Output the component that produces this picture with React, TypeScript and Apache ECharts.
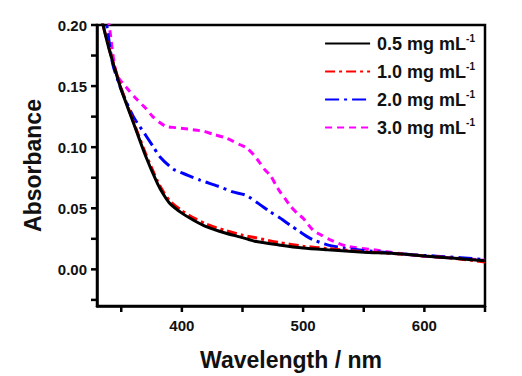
import React, { useEffect, useRef } from "react";
import * as echarts from "echarts";

const names = ["0.5 mg mL", "1.0 mg mL", "2.0 mg mL", "3.0 mg mL"];
const colors = ["#000000", "#ff0000", "#0000ff", "#ff00ff"];

const s05: [number, number][] = [
  [332, 0.215], [335, 0.2], [340, 0.18], [345, 0.163], [350, 0.147], [360, 0.12], [370, 0.093],
  [380, 0.07], [385, 0.061], [390, 0.054], [400, 0.046], [410, 0.04], [420, 0.035], [435, 0.03],
  [450, 0.026], [460, 0.023], [480, 0.02], [500, 0.0175], [520, 0.016], [550, 0.014],
  [575, 0.013], [600, 0.011], [625, 0.009], [650, 0.007],
];
const s10: [number, number][] = [
  [332, 0.215], [335, 0.2], [340, 0.181], [345, 0.164], [350, 0.148], [360, 0.121], [370, 0.095],
  [380, 0.072], [385, 0.063], [390, 0.056], [400, 0.048], [410, 0.042], [420, 0.037], [435, 0.032],
  [450, 0.028], [460, 0.026], [480, 0.022], [500, 0.019], [520, 0.017], [550, 0.0145],
  [575, 0.013], [600, 0.011], [625, 0.009], [650, 0.006],
];
const s20: [number, number][] = [
  [335, 0.215], [338, 0.2], [343, 0.168], [350, 0.147], [360, 0.125], [370, 0.11], [376, 0.101],
  [382, 0.092], [393, 0.082], [405, 0.077], [415, 0.073], [430, 0.068], [442, 0.0634],
  [453, 0.0606], [463, 0.054], [473, 0.047], [481, 0.042], [489, 0.0364], [497, 0.031],
  [503, 0.027], [508, 0.0243], [520, 0.02], [533, 0.0175], [550, 0.0155], [571, 0.0135],
  [590, 0.012], [610, 0.0108], [630, 0.0095], [650, 0.008],
];
const s30: [number, number][] = [
  [337, 0.215], [340, 0.2], [346, 0.16], [355, 0.148], [363, 0.139], [370, 0.132], [376, 0.125],
  [382, 0.12], [387, 0.117], [395, 0.116], [407, 0.1146], [418, 0.113], [426, 0.1105],
  [435, 0.108], [442, 0.105], [448, 0.102], [453, 0.0997], [459, 0.094], [464, 0.0876],
  [468, 0.082], [473, 0.0768], [477, 0.07], [481, 0.0634], [485, 0.058], [489, 0.0525],
  [495, 0.046], [500, 0.0418], [508, 0.0323], [515, 0.028], [522, 0.0243], [536, 0.019],
  [558, 0.016], [580, 0.013], [599, 0.0108], [620, 0.0095], [643, 0.008], [650, 0.0075],
];
const seriesData = [s05, s10, s20, s30];
const dashes: (string | number[])[] = ["solid", [10, 4, 3, 4], [14, 5, 3, 5], [7, 5]];

const X_MIN = 330;
const X_MAX = 650;
const Y_MIN = -0.03;
const Y_MAX = 0.2;
const xMajor = [400, 500, 600];
const xTicks = [350, 400, 450, 500, 550, 600, 650];
const yMajor = [0, 0.05, 0.1, 0.15, 0.2];
const yTicks = [-0.025, 0, 0.025, 0.05, 0.075, 0.1, 0.125, 0.15, 0.175, 0.2];

const FONT = "Liberation Sans, Arial, sans-serif";

export default function App() {
  const ref = useRef<HTMLDivElement>(null);
  useEffect(() => {
    if (!ref.current) return;
    const chart = echarts.init(ref.current, undefined, { renderer: "svg" });
    const axisLineStyle = { color: "#000", width: 2.5 };
    const tickData = [
      ...xTicks.map((v) => [v, Y_MIN, 0]),
      ...yTicks.map((v) => [X_MIN, v, 1]),
    ];
    chart.setOption({
      animation: false,
      backgroundColor: "#fff",
      grid: {
        left: 97, right: 37, top: 25, bottom: 68,
        show: true, borderColor: "#000", borderWidth: 2.5, backgroundColor: "transparent",
      },
      xAxis: {
        type: "value", min: X_MIN, max: X_MAX, position: "bottom",
        name: "Wavelength / nm", nameLocation: "middle", nameGap: 42,
        nameTextStyle: { fontFamily: FONT, fontWeight: "bold", fontSize: 23, color: "#111" },
        axisLine: { show: true, onZero: false, lineStyle: axisLineStyle },
        axisTick: { show: false },
        axisLabel: { customValues: xMajor, fontFamily: FONT, fontWeight: "bold", fontSize: 15, color: "#111", margin: 12 },
        splitLine: { show: false },
      },
      yAxis: {
        type: "value", min: Y_MIN, max: Y_MAX, position: "left",
        name: "Absorbance", nameLocation: "middle", nameGap: 53, nameRotate: 90,
        nameTextStyle: { fontFamily: FONT, fontWeight: "bold", fontSize: 23, color: "#111" },
        axisLine: { show: true, onZero: false, lineStyle: axisLineStyle },
        axisTick: { show: false },
        axisLabel: {
          customValues: yMajor, fontFamily: FONT, fontWeight: "bold", fontSize: 15, color: "#111", margin: 10,
          formatter: (v: number) => v.toFixed(2),
        },
        splitLine: { show: false },
      },
      legend: {
        orient: "vertical", right: 42, top: 28, itemWidth: 45, itemHeight: 16, itemGap: 8.5,
        data: names,
        itemStyle: { opacity: 0 },
        formatter: (n: string) => `{t|${n}}{s|-1}`,
        textStyle: {
          fontFamily: FONT, fontWeight: "bold", fontSize: 18, color: "#111",
          rich: {
            t: { fontFamily: FONT, fontWeight: "bold", fontSize: 18, color: "#111", padding: [0, 0, 0, 2] },
            s: { fontFamily: FONT, fontWeight: "bold", fontSize: 10, color: "#111", padding: [0, 0, 11, 0] },
          },
        },
      },
      series: [
        ...names.map((n, i) => ({
          name: n,
          type: "line",
          data: seriesData[i],
          showSymbol: false,
          symbol: "none",
          smooth: 0.25,
          clip: true,
          z: 10 - i,
          lineStyle: { color: colors[i], width: 3, type: dashes[i] },
          itemStyle: { color: colors[i] },
        })),
        {
          type: "custom",
          name: "ticks",
          clip: false,
          silent: true,
          z: 20,
          data: tickData,
          renderItem: (_params: any, api: any) => {
            const p = api.coord([api.value(0), api.value(1)]);
            const isY = api.value(2) === 1;
            return {
              type: "line",
              shape: isY
                ? { x1: p[0] - 6, y1: p[1], x2: p[0], y2: p[1] }
                : { x1: p[0], y1: p[1], x2: p[0], y2: p[1] + 6 },
              style: { stroke: "#000", lineWidth: 2.5 },
            };
          },
        },
      ],
    });
    return () => chart.dispose();
  }, []);
  return (
    <div
      ref={ref}
      style={{ position: "fixed", left: 0, top: 0, width: 522, height: 376, background: "#fff" }}
    />
  );
}
